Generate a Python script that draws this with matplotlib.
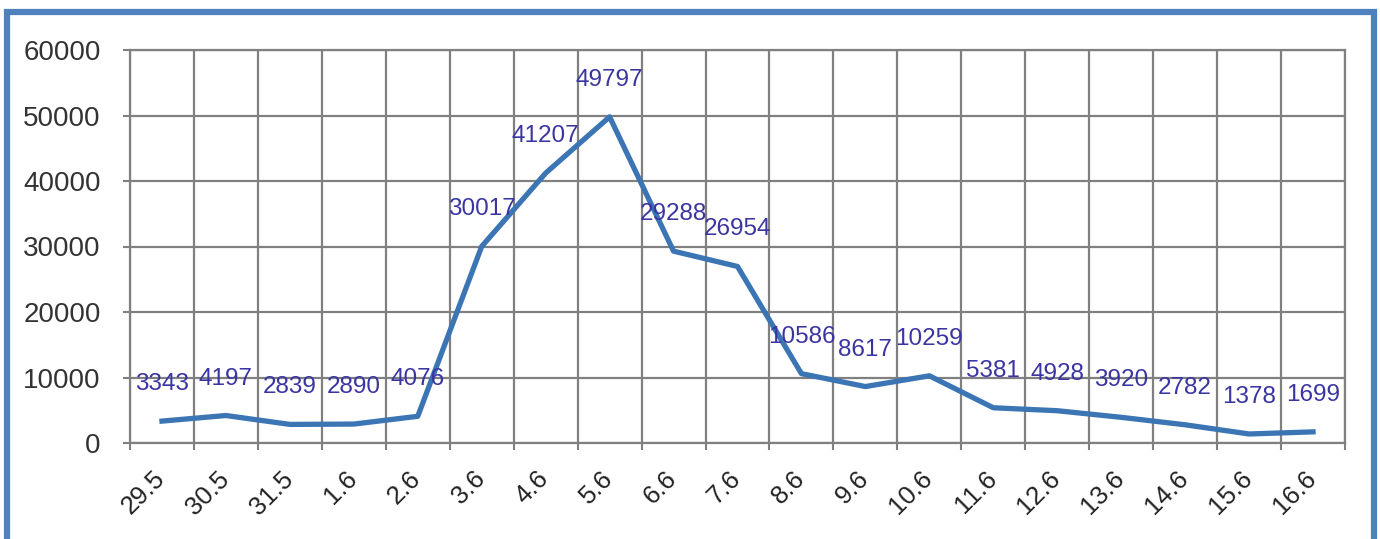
import matplotlib
matplotlib.use("Agg")
import matplotlib.pyplot as plt
import matplotlib.patches as mpatches
import matplotlib.transforms as mtransforms

datums = ["29.5", "30.5", "31.5", "1.6", "2.6", "3.6", "4.6", "5.6", "6.6", "7.6",
          "8.6", "9.6", "10.6", "11.6", "12.6", "13.6", "14.6", "15.6", "16.6"]
waarden = [3343, 4197, 2839, 2890, 4076, 30017, 41207, 49797, 29288, 26954,
           10586, 8617, 10259, 5381, 4928, 3920, 2782, 1378, 1699]
y_ticks = [0, 10000, 20000, 30000, 40000, 50000, 60000]

plt.rcParams["font.family"] = ["Liberation Sans", "DejaVu Sans"]

fig = plt.figure(figsize=(13.8, 5.39), dpi=100)
ax = fig.add_axes([130 / 1380, 96 / 539, 1215 / 1380, 393 / 539])

x = list(range(len(datums)))
ax.plot(x, waarden, color="#3b75b4", linewidth=3.8, solid_joinstyle="round", zorder=3)

for xi, w in zip(x, waarden):
    ax.annotate(str(w), (xi, w), xytext=(0, 37), textcoords="offset pixels",
                ha="center", va="center", fontsize=17.5, color="#3a35a0", zorder=4)

ax.set_xlim(-0.5, len(datums) - 0.5)
ax.set_ylim(0, 60000)
ax.set_yticks(y_ticks)
ax.set_yticklabels([str(v) for v in y_ticks])

# categorie-as: labels in het midden, rasterlijnen op de grenzen
ax.set_xticks(x)
ax.set_xticklabels(datums, rotation=45, ha="right", va="top")
ax.set_xticks([i - 0.5 for i in range(len(datums) + 1)], minor=True)
ax.tick_params(axis="x", which="major", length=0, pad=17, labelsize=18.5, labelcolor="#222222")
ax.tick_params(axis="x", which="minor", length=5, width=1.5, color="#808080")
ax.tick_params(axis="y", length=5, width=1.5, color="#808080", pad=16,
               labelsize=20, labelcolor="#333333")

offset = mtransforms.ScaledTranslation(8 / 100, 0, fig.dpi_scale_trans)
for lbl in ax.get_xticklabels():
    lbl.set_transform(lbl.get_transform() + offset)

ax.grid(True, which="minor", axis="x", color="#808080", linewidth=1.6)
ax.grid(True, which="major", axis="y", color="#808080", linewidth=1.6)
ax.set_axisbelow(True)
for s in ax.spines.values():
    s.set_color("#808080")
    s.set_linewidth(1.6)

# blauwe rand rond de figuur
rand = mpatches.Rectangle((7 / 1380, -10 / 539), (1374 - 7) / 1380, (539 - 12 + 10) / 539,
                          transform=fig.transFigure, fill=False, edgecolor="#4f81bd",
                          linewidth=4.5, clip_on=False)
fig.patches.append(rand)

fig.savefig("out.png", dpi=100)
